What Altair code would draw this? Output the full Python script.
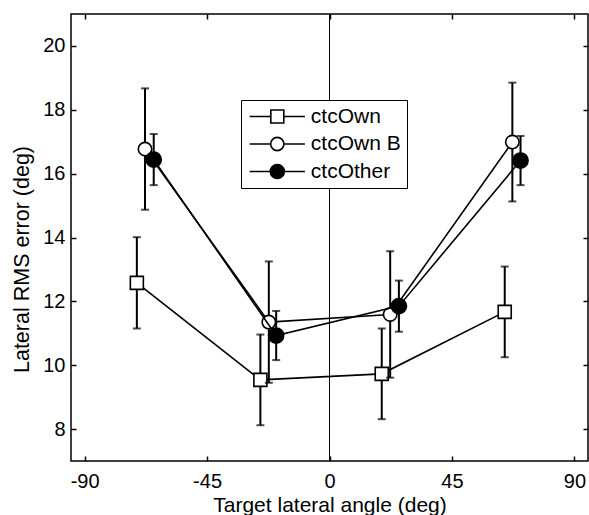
import altair as alt
import pandas as pd

# Series names, in legend order
series_names = ["ctcOwn", "ctcOwn B", "ctcOther"]

# Target lateral angle (deg), RMS error (deg) and error-bar half-width per series
own_angle = [-70.8, -25.4, 19.2, 64.4]
own_rms = [12.58, 9.54, 9.73, 11.67]
own_err = [1.43, 1.42, 1.42, 1.42]

ownb_angle = [-67.8, -22.3, 22.3, 67.2]
ownb_rms = [16.77, 11.35, 11.59, 16.99]
ownb_err = [1.90, 1.90, 1.98, 1.86]

other_angle = [-64.6, -19.6, 25.5, 70.2]
other_rms = [16.44, 10.93, 11.85, 16.41]
other_err = [0.80, 0.77, 0.80, 0.77]

x_ticks = [-90, -45, 0, 45, 90]
y_ticks = [8, 10, 12, 14, 16, 18, 20]

frames = []
for name, a, r, e in zip(series_names,
                         [own_angle, ownb_angle, other_angle],
                         [own_rms, ownb_rms, other_rms],
                         [own_err, ownb_err, other_err]):
    frames.append(pd.DataFrame({"series": name, "angle": a, "rms": r, "err": e}))
df = pd.concat(frames, ignore_index=True)
df["lo"] = df["rms"] - df["err"]
df["hi"] = df["rms"] + df["err"]

W, H = 517, 447
FONT = "Liberation Sans"

xs = alt.Scale(domain=[-95, 95], nice=False, zero=False)
ys = alt.Scale(domain=[7, 21], nice=False, zero=False)


def X(field, axis=None):
    return alt.X(f"{field}:Q", scale=xs, axis=axis)


def Y(field, axis=None):
    return alt.Y(f"{field}:Q", scale=ys, axis=axis)


# Marker style per series
marker = {
    "ctcOwn": dict(shape="square", fill="white", size=169),
    "ctcOwn B": dict(shape="circle", fill="white", size=180),
    "ctcOther": dict(shape="circle", fill="black", size=230),
}

# Legend symbols: marker in the unit box, line segments reaching out on both sides
legend_paths = [
    "M-4.25,0H-1M1,0H4.25M-1,-1H1V1H-1Z",
    "M-4.25,0H-1.02M1.02,0H4.25M-1.02,0A1.02,1.02,0,1,0,1.02,0A1.02,1.02,0,1,0,-1.02,0Z",
    "M-4.25,0H-1.08M1.08,0H4.25M-1.08,0A1.08,1.08,0,1,0,1.08,0A1.08,1.08,0,1,0,-1.08,0Z",
]

tick_axis = dict(labels=False, domain=False, grid=False, title=None,
                 ticks=True, tickSize=5, tickWidth=1.5, tickColor="black")

# Hyphen-minus for negative tick labels
label_expr = "datum.value < 0 ? '-' + abs(datum.value) : '' + datum.value"

# Axis layers (invisible points carry the axes)
axis_main = alt.Chart(df).mark_point(opacity=0).encode(
    x=X("angle", alt.Axis(values=x_ticks, title="Target lateral angle (deg)",
                          orient="bottom", ticks=False, tickSize=0, domain=False,
                          grid=False, labelPadding=10, labelFont=FONT,
                          labelFontSize=20, labelColor="black", labelExpr=label_expr,
                          titleFont=FONT, titleFontSize=21, titleFontWeight="normal",
                          titleColor="black", titleBaseline="alphabetic",
                          titleY=50)),
    y=Y("rms", alt.Axis(values=y_ticks, title="Lateral RMS error (deg)",
                        orient="left", ticks=False, tickSize=0, domain=False,
                        grid=False, labelPadding=6, labelFont=FONT,
                        labelFontSize=20, labelColor="black",
                        titleFont=FONT, titleFontSize=21.5, titleFontWeight="normal",
                        titleColor="black", titleBaseline="alphabetic",
                        titleX=-43, titleY=245)),
)
axis_in1 = alt.Chart(df).mark_point(opacity=0).encode(
    x=X("angle", alt.Axis(values=x_ticks, orient="top", offset=-H, **tick_axis)),
    y=Y("rms", alt.Axis(values=y_ticks, orient="right", offset=-W, **tick_axis)),
)
axis_in2 = alt.Chart(df).mark_point(opacity=0).encode(
    x=X("angle", alt.Axis(values=x_ticks, orient="bottom", offset=-H, **tick_axis)),
    y=Y("rms", alt.Axis(values=y_ticks, orient="left", offset=-W, **tick_axis)),
)

# Vertical reference line at 0 deg
zero_line = alt.Chart(pd.DataFrame({"zero": [0]})).mark_rule(
    color="black", strokeWidth=1
).encode(x=X("zero"))

layers = [axis_main, axis_in1, axis_in2, zero_line]

for name in series_names:
    base = alt.Chart(df).transform_filter(alt.datum.series == name)
    m = marker[name]
    bars = base.mark_rule(color="black", strokeWidth=2).encode(
        x=X("angle"), y=Y("lo"), y2="hi")
    cap_lo = base.mark_tick(orient="horizontal", size=8, thickness=2,
                            color="black").encode(x=X("angle"), y=Y("lo"))
    cap_hi = base.mark_tick(orient="horizontal", size=8, thickness=2,
                            color="black").encode(x=X("angle"), y=Y("hi"))
    line = base.mark_line(color="black", strokeWidth=1.6).encode(
        x=X("angle"), y=Y("rms"))
    pts = base.mark_point(shape=m["shape"], filled=True, fill=m["fill"],
                          stroke="black", strokeWidth=1.6, size=m["size"],
                          opacity=1).encode(x=X("angle"), y=Y("rms"))
    layers += [bars, cap_lo, cap_hi, line, pts]

legend_opts = dict(
    orient="none", legendX=170, legendY=86, title=None,
    strokeColor="black", fillColor="white", padding=6,
    symbolSize=169, symbolOffset=19.8, symbolStrokeColor="black",
    symbolStrokeWidth=1.6, symbolOpacity=1,
    labelFont=FONT, labelFontSize=21, labelColor="black",
    labelOffset=23, rowPadding=5.5,
)
legend_layer = alt.Chart(df).mark_point(opacity=0, filled=True).encode(
    x=X("angle"), y=Y("rms"),
    shape=alt.Shape("series:N", scale=alt.Scale(domain=series_names, range=legend_paths),
                    legend=alt.Legend(**legend_opts)),
    fill=alt.Fill("series:N", scale=alt.Scale(domain=series_names,
                                              range=["white", "white", "black"]),
                  legend=alt.Legend(**legend_opts)),
    stroke=alt.Stroke("series:N", scale=alt.Scale(domain=series_names,
                                                  range=["black", "black", "black"]),
                      legend=alt.Legend(**legend_opts)),
)
layers.append(legend_layer)

chart = alt.layer(*layers).resolve_axis(
    x="independent", y="independent"
).properties(
    width=W, height=H,
    padding={"left": 71, "top": 14, "right": 1, "bottom": 54},
    autosize=alt.AutoSizeParams(type="none"),
    background="white",
).configure_view(stroke="black", strokeWidth=1.5)

chart.save("out.html", embed_options={"renderer": "svg", "actions": False})
